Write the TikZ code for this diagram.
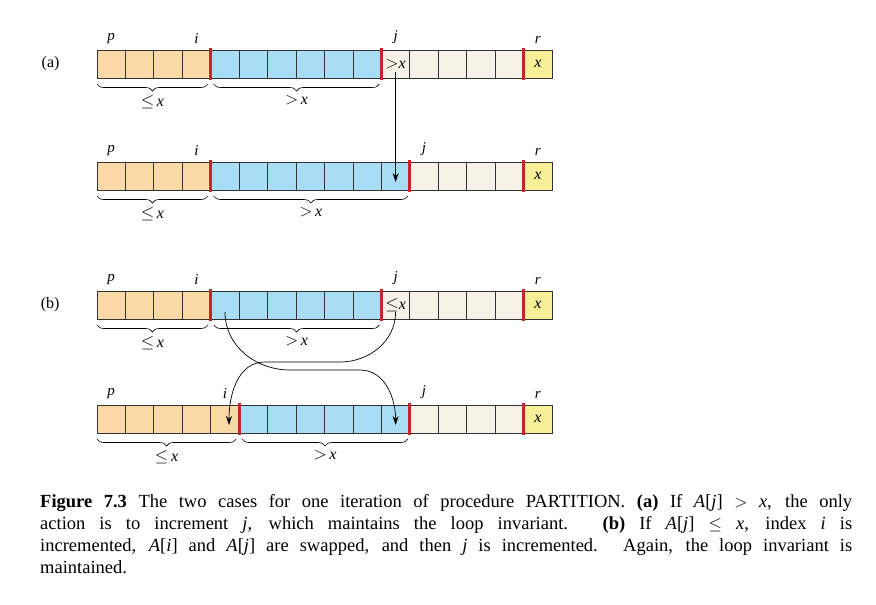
\documentclass[tikz,border=0pt]{standalone}
\usepackage{fontspec}
\setmainfont{Liberation Serif}
\usetikzlibrary{positioning,decorations.pathreplacing,arrows.meta}
\definecolor{lessc}{HTML}{FAD9A7}
\definecolor{morec}{HTML}{A8DCF4}
\definecolor{restc}{HTML}{F6F2E7}
\definecolor{pivc}{HTML}{F8EE98}
\definecolor{barc}{HTML}{C4262E}
\tikzset{
  cell/.style={draw=black!80, line width=0.8pt, minimum width=28.44pt, minimum height=28pt, inner sep=0pt, outer sep=0pt},
  idx/.style={font=\fontsize{15}{15}\selectfont\itshape},
  bar/.style={barc, line width=3pt},
  brc/.style={decorate, decoration={brace, mirror, amplitude=7pt}, line width=0.6pt},
  arr/.style={-{Stealth[length=9pt,width=6pt]}, line width=0.7pt},
}
\newcommand{\cellrow}[3]{% name, y, colour list
  \foreach \c [count=\k from 0] in {#3}
    \node [cell, fill=\c] (#1-\k) at (97+28.44*\k+14.22, #2) {};
}
\begin{document}
\begin{tikzpicture}[x=1pt, y=-1pt, font=\fontsize{16}{16}\selectfont]
  \useasboundingbox (0,0) rectangle (876,605);
  \cellrow{a}{64}{lessc,lessc,lessc,lessc,morec,morec,morec,morec,morec,morec,restc,restc,restc,restc,restc,pivc}
  \cellrow{b}{176}{lessc,lessc,lessc,lessc,morec,morec,morec,morec,morec,morec,morec,restc,restc,restc,restc,pivc}
  \cellrow{c}{305}{lessc,lessc,lessc,lessc,morec,morec,morec,morec,morec,morec,restc,restc,restc,restc,restc,pivc}
  \cellrow{d}{419}{lessc,lessc,lessc,lessc,lessc,morec,morec,morec,morec,morec,morec,restc,restc,restc,restc,pivc}

  \node [left=34pt of a-0] (lbla) {(a)};
  \node [left=34pt of c-0] (lblc) {(b)};

  % cell contents
  \node at (a-10) {$>$\textit{x}};
  \node at (c-10) {$\leq$\textit{x}};
  \foreach \r in {a,b,c,d} \node at (\r-15) {\textit{x}};

  % index labels
  \foreach \r/\i/\j in {a/3/10, b/3/11, c/3/10, d/4/11} {
    \node [idx, above=3pt of \r-0.north] {p};
    \node [idx, above=3pt of \r-\i.north] {i};
    \node [idx, above=3pt of \r-\j.north] {j};
    \node [idx, above=3pt of \r-15.north] {r};
  }

  % red boundaries
  \foreach \r/\i/\j in {a/4/10, b/4/11, c/4/10, d/5/11} {
    \draw [bar] ([yshift=2pt]\r-\i.north west) -- ([yshift=-2pt]\r-\i.south west);
    \draw [bar] ([yshift=2pt]\r-\j.north west) -- ([yshift=-2pt]\r-\j.south west);
    \draw [bar] ([yshift=2pt]\r-15.north west) -- ([yshift=-2pt]\r-15.south west);
  }

  % braces
  \foreach \r/\i/\ii/\jj in {a/3/4/9, b/3/4/10, c/3/4/9, d/4/5/10} {
    \draw [brc] ([yshift=-6pt]\r-0.south west) -- ([yshift=-6pt,xshift=-3pt]\r-\i.south east)
      node [midway, below=8pt] {$\leq$\,\textit{x}};
    \draw [brc] ([yshift=-6pt,xshift=3pt]\r-\ii.south west) -- ([yshift=-6pt,xshift=-2pt]\r-\jj.south east)
      node [midway, below=8pt] {$>$\,\textit{x}};
  }

  % moves
  \draw [arr] ([yshift=-8pt]a-10.center) -- ([yshift=-6pt]b-10.center);
  \coordinate (swl) at (290,370);
  \coordinate (swr) at (340,362);
  \draw [arr] ([yshift=-7pt]c-4.center) to[out=-90, in=180] (swl) -- (360,370) to[out=0, in=90] ([yshift=-6pt]d-10.center);
  \draw [arr] ([yshift=-7pt]c-10.center) to[out=-90, in=0] (swr) -- (265,362) to[out=180, in=90] ([yshift=-6pt,xshift=4pt]d-4.center);

  % caption
  \node [anchor=north west, inner sep=0pt, text width=812pt, align=justify, font=\fontsize{18.5}{22}\selectfont] (cap) at (40,494)
    {\textbf{Figure 7.3} The two cases for one iteration of procedure PARTITION. \textbf{(a)} If \textit{A}[\textit{j}] $>$ \textit{x}, the only\linebreak action is to increment \textit{j}, which maintains the loop invariant. \textbf{(b)} If \textit{A}[\textit{j}] $\leq$ \textit{x}, index \textit{i} is\linebreak incremented, \textit{A}[\textit{i}] and \textit{A}[\textit{j}] are swapped, and then \textit{j} is incremented. Again, the loop invariant is\linebreak maintained.};
\end{tikzpicture}
\end{document}
